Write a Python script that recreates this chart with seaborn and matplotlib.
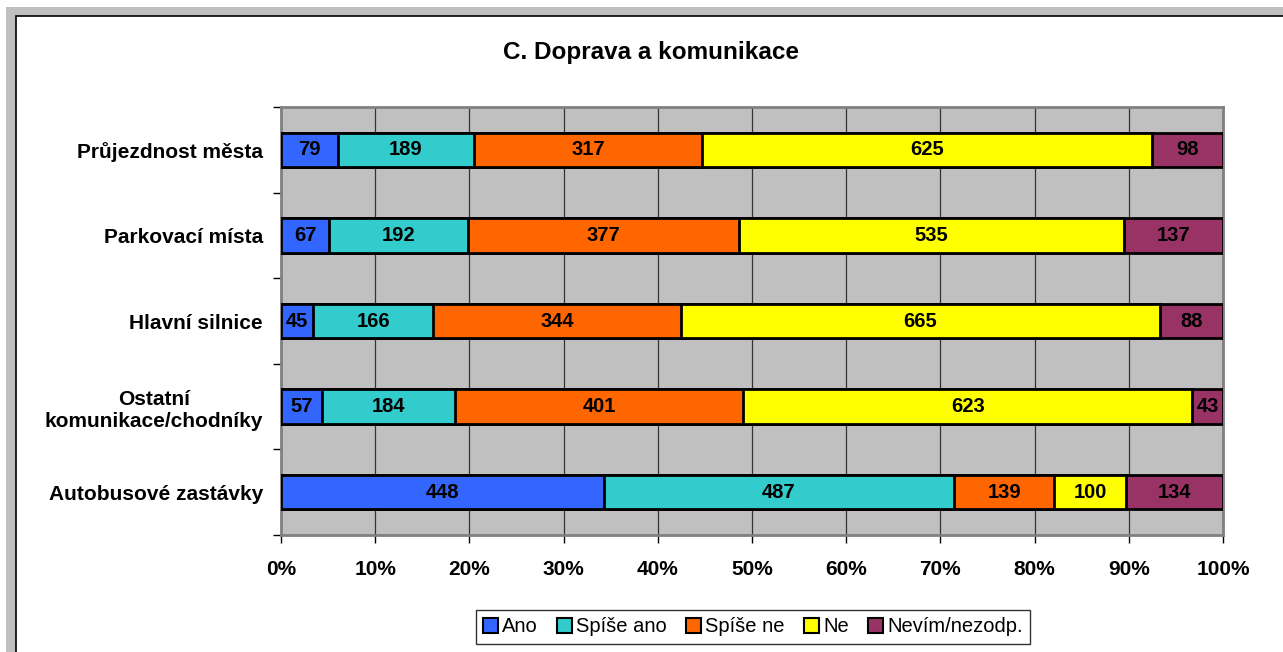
import pandas as pd
import matplotlib.pyplot as plt
import seaborn as sns
from matplotlib.patches import Rectangle, Patch

# Data (counts)
categories = ['Průjezdnost města', 'Parkovací místa', 'Hlavní silnice',
              'Ostatní\nkomunikace/chodníky', 'Autobusové zastávky']
answers = ['Ano', 'Spíše ano', 'Spíše ne', 'Ne', 'Nevím/nezodp.']
ano = [79, 67, 45, 57, 448]
spise_ano = [189, 192, 166, 184, 487]
spise_ne = [317, 377, 344, 401, 139]
ne = [625, 535, 665, 623, 100]
nevim = [98, 137, 88, 43, 134]
colors = ['#3366FF', '#33CCCC', '#FF6600', '#FFFF00', '#993366']

df = pd.DataFrame({'Kategorie': categories, 'Ano': ano, 'Spíše ano': spise_ano,
                   'Spíše ne': spise_ne, 'Ne': ne, 'Nevím/nezodp.': nevim})
totals = df[answers].sum(axis=1)
share = df[answers].div(totals, axis=0) * 100
cum = share.cumsum(axis=1)

sns.set_theme(style='white')
plt.rcParams['font.family'] = ['Liberation Sans', 'DejaVu Sans']
plt.rcParams['text.color'] = 'black'
plt.rcParams['xtick.color'] = 'black'
plt.rcParams['ytick.color'] = 'black'

fig = plt.figure(figsize=(12.83, 6.52), dpi=100)
W, H = 1283, 652

# Excel-like chart frame
fig.patches.append(Rectangle((6 / W, 0), 1, 1 - 7 / H, transform=fig.transFigure,
                             facecolor='#C0C0C0', edgecolor='none', zorder=-3))
fig.patches.append(Rectangle((16 / W, -0.1), 1, 1.1 - 16 / H, transform=fig.transFigure,
                             facecolor='white', edgecolor='black', linewidth=1.2, zorder=-2))

ax = fig.add_axes([281 / W, 1 - 535 / H, (1223 - 281) / W, (535 - 107) / H])
ax.set_facecolor('#C0C0C0')

# Stacked bars: draw cumulative totals from the widest down
for ans, col in reversed(list(zip(answers, colors))):
    sns.barplot(x=cum[ans], y=df['Kategorie'], orient='h', color=col, width=0.4,
                edgecolor='black', linewidth=2, saturation=1, ax=ax, zorder=3)

# Value labels in each segment
for i in range(len(categories)):
    for ans in answers:
        center = cum.loc[i, ans] - share.loc[i, ans] / 2
        ax.text(center, i, str(df.loc[i, ans]), ha='center', va='center',
                fontsize=14.5, fontweight='bold', color='black', zorder=5)

ax.set_xlim(0, 100)
ax.set_ylim(4.5, -0.5)
ax.set_xticks(range(0, 101, 10))
ax.set_xticklabels([f'{v}%' for v in range(0, 101, 10)], fontsize=15, fontweight='bold')
ax.set_yticks(range(len(categories)))
ax.set_yticklabels(categories, fontsize=15, fontweight='bold', ha='right',
                   multialignment='center')
ax.set_yticks([v - 0.5 for v in range(len(categories) + 1)], minor=True)
ax.tick_params(axis='y', which='major', length=0, pad=13)
ax.tick_params(axis='y', which='minor', length=6, width=1, color='black', direction='out', left=True)
ax.tick_params(axis='x', length=6, width=1, color='black', direction='out', bottom=True, pad=12)
ax.set_xlabel('')
ax.set_ylabel('')
ax.xaxis.grid(True, color='#333333', linewidth=0.9, zorder=0)
ax.set_axisbelow(True)
for s in ax.spines.values():
    s.set_color('#808080')
    s.set_linewidth(2)

fig.text(651 / W, 1 - 52 / H, 'C. Doprava a komunikace', ha='center', va='center',
         fontsize=17.5, fontweight='bold')

handles = [Patch(facecolor=c, edgecolor='black', linewidth=1.5, label=a)
           for a, c in zip(answers, colors)]
leg = fig.legend(handles=handles, loc='center', bbox_to_anchor=(753 / W, 1 - 627 / H),
                 ncol=5, fontsize=14.5, frameon=True, fancybox=False, edgecolor='black',
                 handlelength=0.75, handleheight=0.75, handletextpad=0.2,
                 columnspacing=0.95, borderpad=0.35, borderaxespad=0)
leg.get_frame().set_linewidth(1)

fig.savefig('out.png', dpi=100)
